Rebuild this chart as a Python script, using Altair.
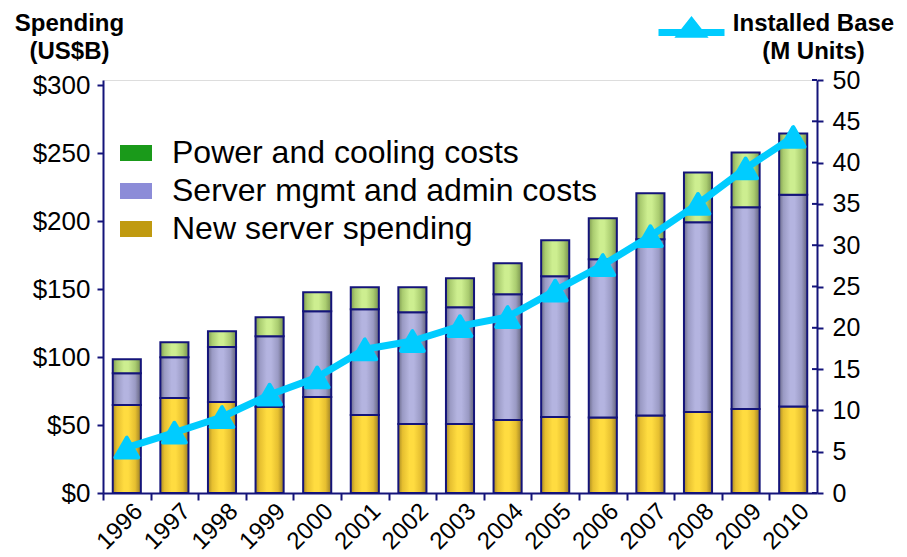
import altair as alt
import pandas as pd

FONT = "Liberation Sans"
NAVY = "#14147a"
CYAN = "#00ccff"

years = ["1996", "1997", "1998", "1999", "2000", "2001", "2002", "2003",
         "2004", "2005", "2006", "2007", "2008", "2009", "2010"]
new_server = [64.7, 69.9, 66.9, 63.4, 70.6, 57.4, 50.7, 50.7, 53.7, 55.9, 55.5, 57.0, 59.6, 61.8, 63.6]
mgmt_admin = [23.5, 30.1, 40.5, 52.0, 63.2, 77.9, 82.4, 86.1, 92.6, 103.7, 116.6, 129.8, 139.7, 148.5, 155.9]
power_cooling = [10.3, 11.0, 11.7, 14.0, 14.0, 16.2, 18.4, 21.3, 22.8, 26.4, 30.1, 33.8, 36.7, 40.4, 45.2]
installed_base = [5.5, 7.3, 9.2, 11.9, 14.0, 17.4, 18.4, 20.2, 21.3, 24.5, 27.6, 31.1, 35.0, 39.3, 43.1]
left_ticks = [0, 50, 100, 150, 200, 250, 300]
right_ticks = [0, 5, 10, 15, 20, 25, 30, 35, 40, 45, 50]

S_PWR = "Power and cooling costs"
S_MGMT = "Server mgmt and admin costs"
S_NEW = "New server spending"
series_order = [S_PWR, S_MGMT, S_NEW]
legend_colors = ["#1a9a1a", "#8c8cd8", "#c09a10"]

rows = []
for i, yr in enumerate(years):
    base = 0.0
    for name, vals in [(S_NEW, new_server), (S_MGMT, mgmt_admin), (S_PWR, power_cooling)]:
        rows.append(dict(year=yr, series=name, value=vals[i], y0=base, y1=base + vals[i]))
        base += vals[i]
df = pd.DataFrame(rows)
df_line = pd.DataFrame(dict(year=years, installed=installed_base, label="Installed Base"))
df_rticks = pd.DataFrame(dict(v=right_ticks))


def grad(edge, mid, light, edge2):
    return alt.Gradient(
        gradient="linear", x1=0, x2=1, y1=0, y2=0,
        stops=[
            alt.GradientStop(color=edge, offset=0),
            alt.GradientStop(color=mid, offset=0.15),
            alt.GradientStop(color=light, offset=0.4),
            alt.GradientStop(color=light, offset=0.55),
            alt.GradientStop(color=mid, offset=0.8),
            alt.GradientStop(color=edge2, offset=1),
        ],
    )


gradients = {
    S_NEW: grad("#a88a22", "#e6bf30", "#ffdc40", "#9a7e24"),
    S_MGMT: grad("#6a6a8a", "#9a9ac4", "#b4b4e0", "#62627a"),
    S_PWR: grad("#7e9a50", "#aacc70", "#cdee90", "#76904c"),
}

x_enc = alt.X(
    "year:N", sort=years,
    scale=alt.Scale(paddingInner=0.41, paddingOuter=0.205),
    axis=alt.Axis(
        title=None, labelAngle=-45, labelFontSize=24, labelFont=FONT, labelColor="black",
        domainColor=NAVY, domainWidth=2, tickColor=NAVY, tickWidth=2, tickSize=7,
        labelPadding=-1, bandPosition=0, tickOffset=-9.76, labelOffset=13, labelOverlap=False,
    ),
)

y_left_axis = alt.Axis(
    values=left_ticks, labelExpr="'$' + datum.value",
    labelFontSize=26, labelFont=FONT, labelColor="black", grid=False,
    domainColor=NAVY, domainWidth=2, tickColor=NAVY, tickWidth=2, tickSize=6, labelPadding=7,
    title=["Spending", "(US$B)"], titleFontSize=24, titleFontWeight="bold", titleFont=FONT,
    titleColor="black", titleAngle=0, titleAlign="center", titleBaseline="alphabetic",
    titleX=-34, titleY=-50, titleLineHeight=28,
)
y_left_scale = alt.Scale(domain=[0, 304], nice=False)

layer_a = alt.Chart(df).mark_bar().encode(
    x=x_enc,
    y=alt.Y("y1:Q", scale=y_left_scale, axis=y_left_axis),
    y2="y0:Q",
    fill=alt.Fill(
        "series:N",
        scale=alt.Scale(domain=series_order, range=legend_colors),
        legend=alt.Legend(
            title=None, orient="none", legendX=17, legendY=57,
            symbolType="M-1,-0.5H1V0.5H-1Z", symbolSize=1024, symbolStrokeWidth=0,
            labelFontSize=32, labelFont=FONT, labelColor="black", labelOffset=20,
            rowPadding=6, padding=0, labelLimit=0,
        ),
    ),
)

grad_layers = []
for name in [S_NEW, S_MGMT, S_PWR]:
    grad_layers.append(
        alt.Chart(df).transform_filter(alt.datum.series == name)
        .mark_bar(fill=gradients[name], stroke=NAVY, strokeWidth=2)
        .encode(
            x=x_enc,
            y=alt.Y("y1:Q", scale=y_left_scale, axis=y_left_axis),
            y2="y0:Q",
        )
    )

bars = alt.layer(layer_a, *grad_layers)

y_right_axis = alt.Axis(
    orient="right", values=right_ticks,
    labelFontSize=25, labelFont=FONT, labelColor="black", grid=False,
    domainColor=NAVY, domainWidth=2, tickColor=NAVY, tickWidth=2, tickSize=6, labelPadding=9,
    title=["Installed Base", "(M Units)"], titleFontSize=24, titleFontWeight="bold", titleFont=FONT,
    titleColor="black", titleAngle=0, titleAlign="center", titleBaseline="alphabetic",
    titleX=-4, titleY=-50, titleLineHeight=28,
)
y_right_scale = alt.Scale(domain=[0, 50], nice=False)

# inner halves of the right-axis ticks (they cross the axis line in the reference)
inner_ticks = alt.Chart(df_rticks).mark_rule(color=NAVY, strokeWidth=2).encode(
    y=alt.Y("v:Q", scale=y_right_scale, axis=y_right_axis),
    x=alt.value(709),
    x2=alt.value(714),
)

line = alt.Chart(df_line).mark_line(strokeWidth=7, strokeJoin="round").encode(
    x=x_enc,
    y=alt.Y("installed:Q", scale=y_right_scale, axis=y_right_axis),
    stroke=alt.Stroke(
        "label:N",
        scale=alt.Scale(domain=["Installed Base"], range=[CYAN]),
        legend=alt.Legend(
            title=None, orient="none", legendX=552, legendY=-84,
            symbolType="M-1,0H1M-0.3,0.05L0,-0.33L0.3,0.05Z", symbolSize=4356,
            symbolStrokeWidth=7, symbolFillColor=CYAN, labelExpr="''", padding=0, labelOffset=0,
        ),
    ),
)

points = alt.Chart(df_line).mark_point(
    shape="triangle-up", filled=True, size=520, fill=CYAN, stroke=CYAN,
    strokeWidth=4, strokeJoin="round", opacity=1,
).encode(
    x=x_enc,
    y=alt.Y("installed:Q", scale=y_right_scale, axis=y_right_axis),
)

right = alt.layer(inner_ticks, line, points)

chart = (
    alt.layer(bars, right)
    .resolve_scale(y="independent")
    .properties(
        width=714, height=413,
        autosize=alt.AutoSizeParams(type="none"),
        padding={"left": 95, "top": 72, "right": 82, "bottom": 64},
    )
    .configure_view(stroke=None)
    .configure(font=FONT)
)

chart.save("out.html", embed_options={"renderer": "svg", "actions": False})
